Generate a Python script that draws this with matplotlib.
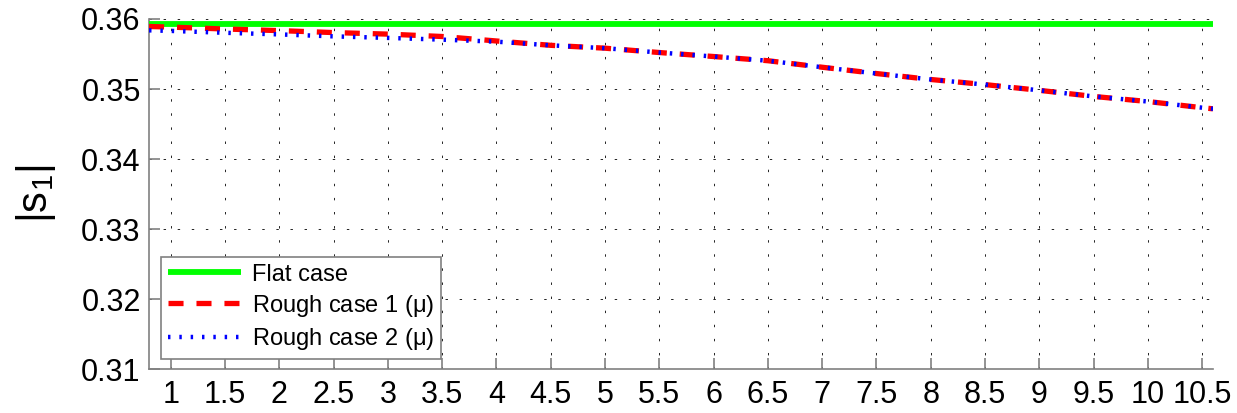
import numpy as np
import matplotlib
matplotlib.use('Agg')
import matplotlib.pyplot as plt

# values
x = [0.8, 1.0, 1.5, 2.0, 2.5, 3.0, 3.5, 4.0, 4.5, 5.0, 5.5, 6.0, 6.5,
     7.0, 7.5, 8.0, 8.5, 9.0, 9.5, 10.0, 10.5, 10.6]
flat = [0.3593] * len(x)
rough1 = [0.35893, 0.35884, 0.35857, 0.35834, 0.35806, 0.35784, 0.35750,
          0.35686, 0.35624, 0.35583, 0.35521, 0.35464, 0.35404, 0.35311,
          0.35221, 0.35136, 0.35063, 0.34981, 0.34894, 0.34821, 0.34733,
          0.34717]
rough2 = [0.35838, 0.35830, 0.35803, 0.35780, 0.35752, 0.35730, 0.35705,
          0.35676, 0.35624, 0.35583, 0.35521, 0.35464, 0.35404, 0.35311,
          0.35221, 0.35136, 0.35063, 0.34981, 0.34894, 0.34821, 0.34733,
          0.34717]
labels = ['Flat case', r'Rough case 1 ($\mu$)', r'Rough case 2 ($\mu$)']
xticks = np.arange(1, 10.51, 0.5)
xticklabels = ['1', '1.5', '2', '2.5', '3', '3.5', '4', '4.5', '5', '5.5',
               '6', '6.5', '7', '7.5', '8', '8.5', '9', '9.5', '10', '10.5']
yticks = [0.31, 0.32, 0.33, 0.34, 0.35, 0.36]

plt.rcParams['font.family'] = ['Liberation Sans', 'DejaVu Sans']
plt.rcParams['mathtext.fontset'] = 'custom'
plt.rcParams['mathtext.rm'] = 'Liberation Sans'
plt.rcParams['mathtext.default'] = 'regular'

fig = plt.figure(figsize=(12.37, 4.13), dpi=100)
ax = fig.add_axes([0.1205, 0.1065, 0.8601, 0.8475])

ax.plot(x, flat, color='#00ff00', lw=4.2, solid_capstyle='butt', label=labels[0], zorder=3)
l1, = ax.plot(x, rough1, color='#ff0000', lw=3.8, dash_capstyle='butt', label=labels[1], zorder=4)
l1.set_dashes((2.85, 2.45))
l2, = ax.plot(x, rough2, color='#0000ff', lw=3.2, dash_capstyle='butt', label=labels[2], zorder=5)
l2.set_dashes((0.55, 2.0))

ax.set_xlim(0.8, 10.6)
ax.set_ylim(0.31, 0.36)
ax.set_xticks(xticks)
ax.set_xticklabels(xticklabels)
ax.set_yticks(yticks)
ax.set_yticklabels(['%.2f' % v for v in yticks])

ax.grid(True, color='#222222', lw=0.7, linestyle=(0, (2.5, 12)))
ax.set_axisbelow(True)
for s in ['top', 'right']:
    ax.spines[s].set_visible(False)
for s in ['left', 'bottom']:
    ax.spines[s].set_color('#808080')
    ax.spines[s].set_linewidth(1.2)
ax.tick_params(direction='in', length=8, width=1.2, color='#808080',
               labelsize=22, labelcolor='k')
ax.tick_params(axis='y', pad=6)
ax.tick_params(axis='x', pad=8)

ax.set_ylabel('|s$_1$|', fontsize=30)
ax.yaxis.set_label_coords(-0.086, 0.5)

leg = ax.legend(loc='lower left', bbox_to_anchor=(0.0113, 0.029),
                borderaxespad=0, fontsize=17, handlelength=3.1,
                handletextpad=0.45, labelspacing=0.3, borderpad=0.3,
                fancybox=False, framealpha=1, edgecolor='#808080')
leg.get_frame().set_linewidth(1.2)

plt.savefig('out.png', dpi=100)
plt.close()
